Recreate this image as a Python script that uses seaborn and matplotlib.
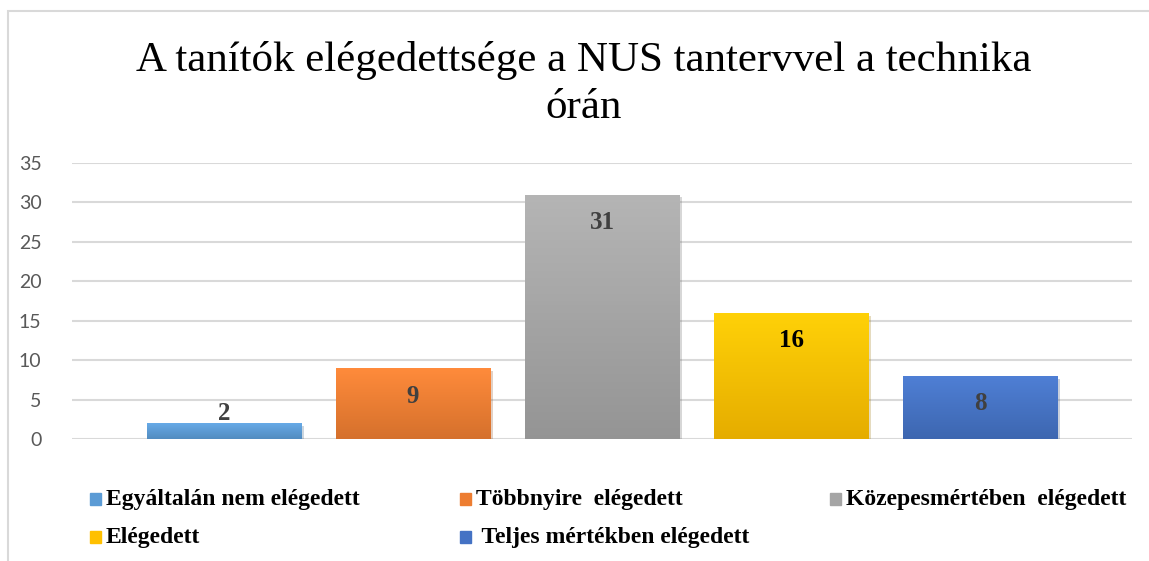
import numpy as np
import matplotlib
matplotlib.use("Agg")
import matplotlib.pyplot as plt
import matplotlib.colors as mcolors
import matplotlib.patheffects as pe
from matplotlib.patches import Rectangle
import seaborn as sns

# ── Data ────────────────────────────────────────────────────────────────────
categories = [
    "Egyáltalán nem elégedett",
    "Többnyire  elégedett",
    "Közepesmértében  elégedett",
    "Elégedett",
    " Teljes mértékben elégedett",
]
values = [2, 9, 31, 16, 8]
bar_colors = ["#5B9BD5", "#ED7D31", "#A5A5A5", "#FFC000", "#4472C4"]
label_colors = ["#404040", "#404040", "#404040", "#000000", "#404040"]
y_ticks = [0, 5, 10, 15, 20, 25, 30, 35]
title = "A tanítók elégedettsége a NUS tantervvel a technika\nórán"

sns.set_theme(style="white")
plt.rcParams["font.family"] = ["Liberation Serif", "DejaVu Sans"]

fig = plt.figure(figsize=(11.49, 5.61), dpi=100)
ax = fig.add_axes([72 / 1149, 1 - 439 / 561, (1132 - 72) / 1149, (439 - 163) / 561])

sns.barplot(x=list(range(len(values))), y=values, hue=list(range(len(values))),
            palette=bar_colors, width=0.815, legend=False, ax=ax, saturation=1,
            native_scale=True, linewidth=0)

# gradient fill + soft shadow on each bar
for patch, col in zip(ax.patches, bar_colors):
    base = np.array(mcolors.to_rgb(col))
    top = np.clip(base * 1.05 + 0.03, 0, 1)
    bot = np.clip(base * 0.90, 0, 1)
    grad = np.linspace(0, 1, 64)[:, None, None]
    img = top * (1 - grad) + bot * grad
    x0, y0 = patch.get_x(), patch.get_y()
    w, h = patch.get_width(), patch.get_height()
    patch.set_path_effects([pe.SimplePatchShadow(offset=(2, -2), alpha=0.25, rho=0.6), pe.Normal()])
    im = ax.imshow(img, extent=(x0, x0 + w, y0, y0 + h), origin="upper",
                   aspect="auto", zorder=patch.get_zorder() + 0.1)
    im.set_clip_path(patch)

ax.set_xlim(-0.804, 4.804)
ax.set_ylim(0, 35)
ax.set_yticks(y_ticks)
ax.set_yticklabels([str(t) for t in y_ticks], fontfamily="Lato", fontsize=14, color="#595959")
ax.tick_params(axis="y", length=0, pad=22)
ax.set_xticks([])
ax.set_xlabel("")
ax.set_ylabel("")
ax.grid(axis="y", color="#D9D9D9", linewidth=1.5)
ax.set_axisbelow(True)
sns.despine(ax=ax, left=True, bottom=True)

# data labels: inside end, or above when the bar is too short
for i, (v, lc) in enumerate(zip(values, label_colors)):
    dy = -28 if v > 4 else 10
    ax.annotate(str(v), (i, v), xytext=(0, dy), textcoords="offset pixels",
                ha="center", va="center", fontsize=18, fontweight="bold", color=lc)

fig.text(584 / 1149, 1 - 84 / 561, title, ha="center", va="center",
         fontsize=31, color="#000000", linespacing=1.3)

# legend laid out like the original (three columns, row-major)
leg_x = [90, 460, 830]
leg_y = [499, 537]
for k, (name, col) in enumerate(zip(categories, bar_colors)):
    r, c = divmod(k, 3)
    px, py = leg_x[c], leg_y[r]
    fig.patches.append(Rectangle((px / 1149, 1 - (py + 6) / 561), 11 / 1149, 12 / 561,
                                 transform=fig.transFigure, color=col, figure=fig))
    fig.text((px + 16) / 1149, 1 - py / 561, name, ha="left", va="center",
             fontsize=17, fontweight="bold", color="#000000")

# outer chart frame
fig.patches.append(Rectangle((8 / 1149, -0.05), 1.2, 1 - 11 / 561 + 0.05,
                             transform=fig.transFigure, fill=False,
                             edgecolor="#D9D9D9", linewidth=1.5, figure=fig))

fig.savefig("out.png", dpi=100)
